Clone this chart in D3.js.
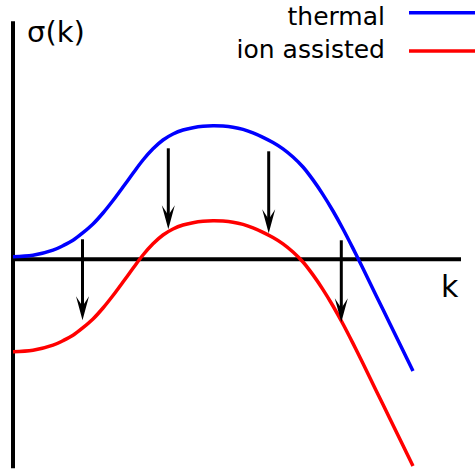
<!DOCTYPE html>
<html>
<head>
<meta charset="utf-8">
<script src="https://cdn.jsdelivr.net/npm/d3@7"></script>
<style>
  body { margin: 0; background: #fff; }
  text { font-family: "DejaVu Sans", sans-serif; fill: #000; }
</style>
</head>
<body>
<div id="chart"></div>
<script>
// wavenumber samples
const kValues = [0, 0.2, 0.4, 0.5, 0.6, 0.7, 0.8, 0.9, 1.0, 1.1, 1.2, 1.3, 1.4, 1.5, 1.6, 1.7, 1.8, 1.9, 2.0,
    2.1, 2.2, 2.3, 2.4, 2.5, 2.6, 2.7, 2.8, 2.9, 3.0, 3.1, 3.2, 3.3, 3.4, 3.5, 3.7, 3.9, 4.0];
// growth rate, thermal case
const thermal = [0.026, 0.040, 0.091, 0.136, 0.190, 0.266, 0.353, 0.463, 0.588, 0.723, 0.860, 0.993, 1.105, 1.193, 1.253, 1.293, 1.316, 1.330, 1.335,
    1.332, 1.321, 1.299, 1.264, 1.220, 1.168, 1.105, 1.023, 0.923, 0.794, 0.647, 0.483, 0.303, 0.109, -0.093, -0.503, -0.913, -1.117];
// growth rate, ion assisted case
const ionAssisted = [-0.924, -0.910, -0.859, -0.814, -0.760, -0.684, -0.597, -0.487, -0.362, -0.227, -0.090, 0.043, 0.155, 0.243, 0.303, 0.343, 0.366, 0.380, 0.385,
    0.382, 0.371, 0.349, 0.314, 0.270, 0.218, 0.155, 0.073, -0.027, -0.156, -0.303, -0.467, -0.647, -0.841, -1.043, -1.453, -1.863, -2.067];
// arrows from thermal down to ion assisted
const arrowK = [0.695, 1.553, 2.557, 3.283];
const arrowTop = [0.20, 1.11, 1.08, 0.19];
const arrowTip = [-0.61, 0.30, 0.26, -0.63];

const seriesNames = ["thermal", "ion assisted"];
const seriesColors = ["#0000ff", "#ff0000"];

const WIDTH = 475, HEIGHT = 473;

const svg = d3.select("#chart").append("svg")
    .attr("width", WIDTH)
    .attr("height", HEIGHT);

// scales: k -> px, sigma -> px
const x = d3.scaleLinear().domain([0, 4]).range([13, 413]);
const y = d3.scaleLinear().domain([0, 1]).range([259.3, 159.3]);

// axes
svg.append("line")
    .attr("x1", x(0)).attr("x2", x(0))
    .attr("y1", y(2.38)).attr("y2", y(-2.09))
    .attr("stroke", "#000").attr("stroke-width", 4);
svg.append("line")
    .attr("x1", x(0)).attr("x2", x(4.48))
    .attr("y1", y(0)).attr("y2", y(0))
    .attr("stroke", "#000").attr("stroke-width", 4);

svg.append("text")
    .attr("x", 27).attr("y", 42)
    .attr("font-size", "29px")
    .text("σ(k)");
svg.append("text")
    .attr("x", 441).attr("y", 297)
    .attr("font-size", "30px")
    .text("k");

// curves
const line = d3.line()
    .x((d, i) => x(kValues[i]))
    .y(d => y(d))
    .curve(d3.curveCatmullRom.alpha(0.5));

[thermal, ionAssisted].forEach((s, i) => {
    svg.append("path")
        .attr("d", line(s))
        .attr("fill", "none")
        .attr("stroke", seriesColors[i])
        .attr("stroke-width", 3.5);
});

// arrows
const arrows = svg.append("g");
arrowK.forEach((k, i) => {
    const ax = x(k), y0 = y(arrowTop[i]), y1 = y(arrowTip[i]);
    arrows.append("line")
        .attr("x1", ax).attr("x2", ax)
        .attr("y1", y0).attr("y2", y1 - 12)
        .attr("stroke", "#000").attr("stroke-width", 3);
    arrows.append("path")
        .attr("transform", `translate(${ax}, ${y1})`)
        .attr("d", "M0,0 L-6.5,-24 L0,-14 L6.5,-24 Z")
        .attr("fill", "#000");
});

// legend
const legend = svg.append("g");
const legendText = [25, 58];
const legendLine = [12.7, 51];
seriesNames.forEach((name, i) => {
    legend.append("text")
        .attr("x", 385).attr("y", legendText[i])
        .attr("text-anchor", "end")
        .attr("font-size", "25px")
        .text(name);
    legend.append("line")
        .attr("x1", 409).attr("x2", 476)
        .attr("y1", legendLine[i]).attr("y2", legendLine[i])
        .attr("stroke", seriesColors[i])
        .attr("stroke-width", 3.5);
});
</script>
</body>
</html>
